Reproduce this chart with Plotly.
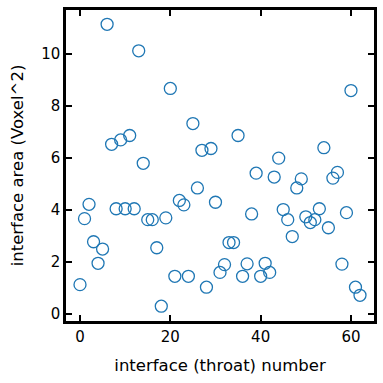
import plotly.graph_objects as go

interface_number = list(range(63))
interface_area = [
    1.13, 3.67, 4.22, 2.78, 1.95, 2.50, 11.15, 6.53, 4.05, 6.70,
    4.05, 6.87, 4.05, 10.13, 5.80, 3.63, 3.63, 2.55, 0.30, 3.70,
    8.68, 1.45, 4.37, 4.20, 1.45, 7.33, 4.85, 6.30, 1.03, 6.37,
    4.30, 1.60, 1.90, 2.75, 2.75, 6.87, 1.45, 1.93, 3.85, 5.42,
    1.45, 1.95, 1.60, 5.27, 6.00, 4.02, 3.63, 2.98, 4.85, 5.20,
    3.74, 3.52, 3.63, 4.05, 6.40, 3.32, 5.23, 5.45, 1.92, 3.90,
    8.60, 1.03, 0.72,
]

fig = go.Figure(go.Scatter(
    x=interface_number, y=interface_area, mode="markers",
    marker=dict(symbol="circle-open", size=12, color="#1f77b4",
                line=dict(width=1.3, color="#1f77b4")),
))

axis_common = dict(
    showline=True, linewidth=2.5, linecolor="black", mirror="ticks",
    ticks="inside", ticklen=6, tickwidth=2, tickcolor="black",
    showgrid=False, zeroline=False, automargin=False,
    tickfont=dict(family="DejaVu Sans", size=15, color="black"),
)

fig.update_layout(
    width=383, height=383,
    margin=dict(l=66, r=9, t=10, b=62),
    plot_bgcolor="white", paper_bgcolor="white",
    showlegend=False,
    font=dict(family="DejaVu Sans", color="black"),
    xaxis=dict(range=[-3.1, 65.1], tickvals=[0, 20, 40, 60],
               title=dict(text="interface (throat) number", standoff=15,
                          font=dict(size=16.5, family="DejaVu Sans")),
               **axis_common),
    yaxis=dict(range=[-0.27, 11.7], tickvals=[0, 2, 4, 6, 8, 10],
               title=dict(text="interface area (Voxel^2)", standoff=14,
                          font=dict(size=16.5, family="DejaVu Sans")),
               **axis_common),
)

fig.write_html("out.html",
               config={"displayModeBar": False},
               post_script="document.body.style.margin='0';document.body.style.padding='0';")
